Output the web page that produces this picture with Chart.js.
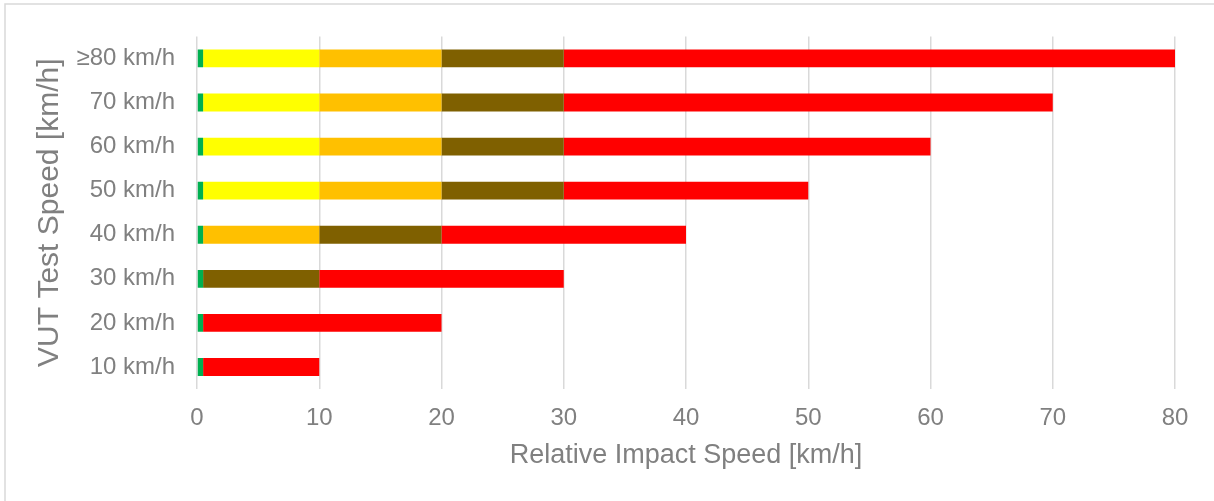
<!DOCTYPE html>
<html>
<head>
<meta charset="utf-8">
<script src="https://cdn.jsdelivr.net/npm/chart.js@4"></script>
<style>
  html, body { margin: 0; padding: 0; background: #fff; }
  #wrap { width: 1214px; height: 501px; position: relative; }
</style>
</head>
<body>
<div id="wrap"><canvas id="impactChart" width="1214" height="501"></canvas></div>
<script>
const testSpeeds = ["≥80 km/h", "70 km/h", "60 km/h", "50 km/h", "40 km/h", "30 km/h", "20 km/h", "10 km/h"];

// segment lengths per test speed (km/h), stacked left to right
const greenPart  = [0.5, 0.5, 0.5, 0.5, 0.5, 0.5, 0.5, 0.5];
const yellowPart = [9.5, 9.5, 9.5, 9.5, 0, 0, 0, 0];
const orangePart = [10, 10, 10, 10, 9.5, 0, 0, 0];
const olivePart  = [10, 10, 10, 10, 10, 9.5, 0, 0];
const redPart    = [50, 40, 30, 20, 20, 20, 19.5, 9.5];

const xTicks = [0, 10, 20, 30, 40, 50, 60, 70, 80];

const grey = "#808080";
const fontFamily = "'Liberation Sans', Arial, sans-serif";

const makeSet = (label, data, color) => ({
  label: label,
  data: data,
  backgroundColor: color,
  borderWidth: 0,
  barPercentage: 0.9,
  categoryPercentage: 0.45,
});

// thin outer frame like the Excel chart area
const framePlugin = {
  id: "frame",
  beforeDraw(chart) {
    const ctx = chart.ctx;
    ctx.save();
    ctx.strokeStyle = "#d9d9d9";
    ctx.lineWidth = 1.5;
    ctx.strokeRect(5, 4, chart.width + 20, chart.height + 20);
    ctx.restore();
  },
};

new Chart(document.getElementById("impactChart"), {
  type: "bar",
  data: {
    labels: testSpeeds,
    datasets: [
      makeSet("green", greenPart, "#00B050"),
      makeSet("yellow", yellowPart, "#FFFF00"),
      makeSet("orange", orangePart, "#FFC000"),
      makeSet("olive", olivePart, "#7F6000"),
      makeSet("red", redPart, "#FF0000"),
    ],
  },
  options: {
    indexAxis: "y",
    responsive: false,
    animation: false,
    layout: { padding: { top: 32, right: 39, left: 20, bottom: 0 } },
    plugins: {
      legend: { display: false },
      tooltip: { enabled: false },
    },
    scales: {
      x: {
        stacked: true,
        min: 0,
        max: 80,
        afterBuildTicks: (scale) => {
          scale.ticks = xTicks.map((v) => ({ value: v }));
        },
        afterFit: (scale) => { scale.height = 112; },
        grid: { color: "#d9d9d9", lineWidth: 1.5, drawTicks: false },
        border: { display: false },
        ticks: { color: grey, font: { family: fontFamily, size: 24 }, padding: 15 },
        title: {
          display: true,
          text: "Relative Impact Speed [km/h]",
          color: grey,
          font: { family: fontFamily, size: 27 },
          padding: { top: 0, bottom: 29 },
        },
      },
      y: {
        stacked: true,
        afterFit: (scale) => { scale.width = 177; },
        grid: { display: false, drawTicks: false },
        border: { display: false },
        ticks: { color: grey, font: { family: fontFamily, size: 24 }, padding: 22 },
        title: {
          display: true,
          text: "VUT Test Speed [km/h]",
          color: grey,
          font: { family: fontFamily, size: 30 },
          padding: { top: 12, bottom: 0 },
        },
      },
    },
  },
  plugins: [framePlugin],
});
</script>
</body>
</html>
